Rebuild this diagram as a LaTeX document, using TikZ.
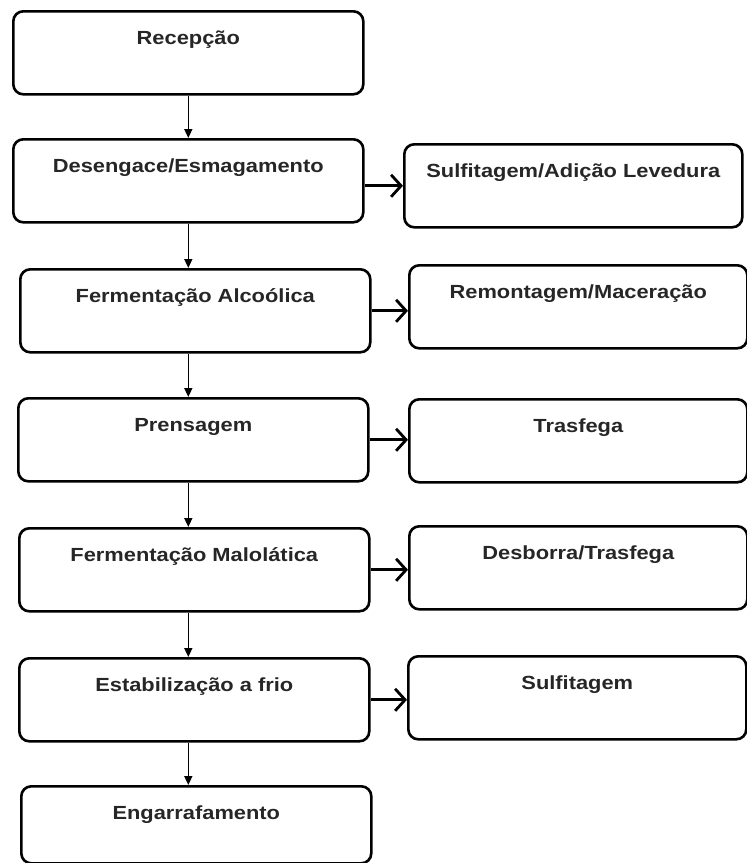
\documentclass[tikz,border=0pt]{standalone}
\usepackage{fontspec}
\setmainfont[FakeStretch=1.15]{Liberation Sans}
\usepackage{xcolor}
\usepackage{tikz}
\usetikzlibrary{arrows.meta}

\begin{document}
\begin{tikzpicture}[
  x=1pt, y=-1pt,
  stage/.style={rectangle, draw, rounded corners=10pt, line width=2.6pt,
                anchor=north west, inner xsep=0pt, inner ysep=19pt,
                text height=14pt, text depth=31pt, align=center,
                text=black!85, font=\fontsize{19}{21}\selectfont\bfseries},
  left/.style={stage, minimum width=350pt},
  side/.style={stage, minimum width=338pt},
  down/.style={-{Triangle[length=9pt,width=8pt]}, line width=1.6pt},
  aside/.style={-{Straight Barb[length=10pt,width=22pt]}, line width=2.8pt}
]
\useasboundingbox (0,0) rectangle (747,863);

% main line
\node[left] (recepcao)  at (12,10)  {Recepção};
\node[left] (desengace) at (12,138) {Desengace/Esmagamento};
\node[left] (fermalc)   at (19,268) {Fermentação Alcoólica};
\node[left] (prensagem) at (17,397) {Prensagem};
\node[left] (fermmalo)  at (18,527) {Fermentação Malolática};
\node[left] (estab)     at (18,657) {Estabilização a frio};
\node[left, text depth=25pt] (engarraf) at (20,785) {Engarrafamento};

% side operations
\node[side] (sulfadic) at (403,143) {Sulfitagem/Adição Levedura};
\node[side] (remont)   at (408,264) {Remontagem/Maceração};
\node[side] (trasfega) at (408,398) {Trasfega};
\node[side] (desborra) at (408,525) {Desborra/Trasfega};
\node[side] (sulfit)   at (407,655) {Sulfitagem};

% all down arrows on one vertical line
\draw[down] (recepcao.south) -- (recepcao.south |- desengace.north);
\draw[down] (recepcao.south |- desengace.south) -- (recepcao.south |- fermalc.north);
\draw[down] (recepcao.south |- fermalc.south)   -- (recepcao.south |- prensagem.north);
\draw[down] (recepcao.south |- prensagem.south) -- (recepcao.south |- fermmalo.north);
\draw[down] (recepcao.south |- fermmalo.south)  -- (recepcao.south |- estab.north);
\draw[down] (recepcao.south |- estab.south)     -- (recepcao.south |- engarraf.north);

\draw[aside] (desengace.east |- sulfadic.west) -- (sulfadic.west);
\draw[aside] (fermalc.east)   -- (fermalc.east -| remont.west);
\draw[aside] (prensagem.east) -- (prensagem.east -| trasfega.west);
\draw[aside] (fermmalo.east)  -- (fermmalo.east -| desborra.west);
\draw[aside] (estab.east)     -- (estab.east -| sulfit.west);
\end{tikzpicture}
\end{document}
